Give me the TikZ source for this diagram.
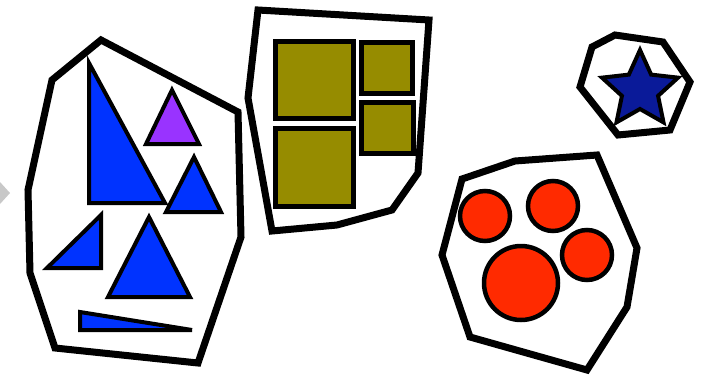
\documentclass[tikz,border=0pt]{standalone}
\usetikzlibrary{calc}
\begin{document}
\begin{tikzpicture}[x=1pt,y=-1pt,line join=miter,
  hull/.style={draw=black,line width=7pt,fill=white},
  shp/.style={draw=black,line width=4pt},
  sq/.style={draw=black,line width=5pt,fill=olive0},
  circ/.style={draw=black,line width=4.5pt,fill=red0}]
\definecolor{blue0}{RGB}{0,51,255}
\definecolor{purple0}{RGB}{153,51,255}
\definecolor{olive0}{RGB}{150,140,0}
\definecolor{red0}{RGB}{255,42,0}
\definecolor{navy0}{RGB}{10,26,153}
\definecolor{gray0}{RGB}{200,200,200}
\path[use as bounding box] (0,0) rectangle (701,378);
% gray chevron
\fill[gray0] (0,182) -- (10,193) -- (0,204) -- cycle;
% left hull
\draw[hull] (101,40) -- (238,112) -- (241,237) -- (198,363) -- (55,348) -- (30,273) -- (28,190) -- (52,80) -- cycle;
\draw[shp,fill=blue0] (89,63) -- (165,203) -- (89,203) -- cycle;
\draw[shp,fill=purple0] (172,90) -- (199,144) -- (146,144) -- cycle;
\draw[shp,fill=blue0] (194,157) -- (221,212) -- (166,212) -- cycle;
\draw[shp,fill=blue0] (101,215) -- (101,268) -- (47,268) -- cycle;
\draw[shp,fill=blue0] (149,217) -- (190,297) -- (108,297) -- cycle;
\draw[shp,fill=blue0] (80,312) -- (192,330) -- (80,330) -- cycle;
% middle hull
\draw[hull] (258,10) -- (429,20) -- (418,173) -- (392,210) -- (337,225) -- (272,231) -- (248,98) -- cycle;
\draw[sq] (275,41) rectangle (353,118);
\draw[sq] (275,128) rectangle (353,206);
\draw[sq] (361,42) rectangle (412,93);
\draw[sq] (361,102) rectangle (413,153);
% right hull
\draw[hull] (515,161) -- (597,155) -- (637,248) -- (627,307) -- (587,370) -- (470,337) -- (442,255) -- (462,179) -- cycle;
\draw[circ] (485,216) circle (25);
\draw[circ] (553,206) circle (25);
\draw[circ] (587,255) circle (25);
\draw[circ] (521,283) circle (37);
% star hull
\draw[hull] (615,35) -- (663,42) -- (690,82) -- (670,130) -- (618,135) -- (580,87) -- (592,47) -- cycle;
\draw[shp,fill=navy0] (640,50)
  \foreach \i in {1,...,9} {
    -- ($(640,90) + ({-90+36*\i}:{ifthenelse(mod(\i,2)==0,40,19)})$)
  } -- cycle;
\end{tikzpicture}
\end{document}
